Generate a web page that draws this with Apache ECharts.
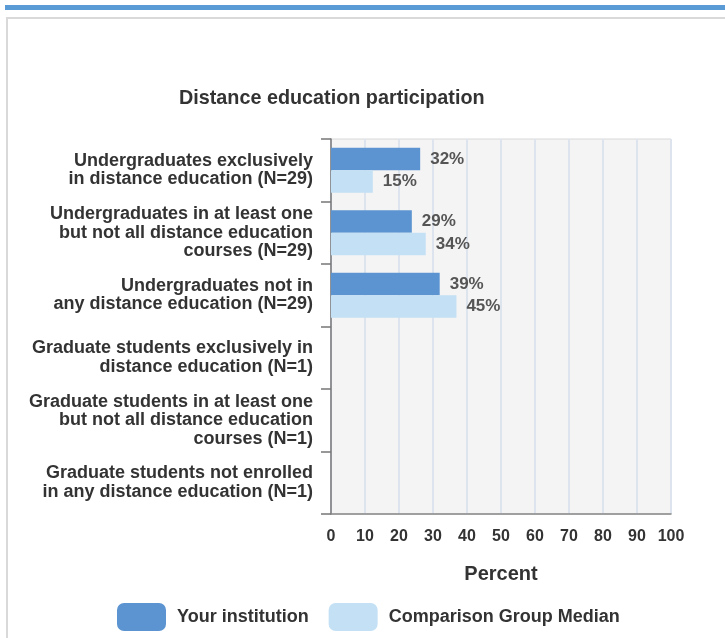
<!DOCTYPE html>
<html>
<head>
<meta charset="utf-8">
<script src="https://cdn.jsdelivr.net/npm/echarts@6/dist/echarts.min.js"></script>
<style>
  html, body { margin: 0; padding: 0; background: #fff; }
  .topbar { position: absolute; left: 5px; top: 5px; width: 720px; height: 5px; background: #5b9bd5; }
  .frame { position: absolute; left: 6px; top: 17px; width: 800px; height: 800px; border: 2px solid #d9d9d9; }
  #chart { position: absolute; left: 0; top: 0; width: 725px; height: 638px; }
</style>
</head>
<body>
<div class="topbar"></div>
<div class="frame"></div>
<div id="chart"></div>
<script>
// 类别与数据
const categories = [
  'Undergraduates exclusively\nin distance education (N=29)',
  'Undergraduates in at least one\nbut not all distance education\ncourses (N=29)',
  'Undergraduates not in\nany distance education (N=29)',
  'Graduate students exclusively in\ndistance education (N=1)',
  'Graduate students in at least one\nbut not all distance education\ncourses (N=1)',
  'Graduate students not enrolled\nin any distance education (N=1)'
]
const institutionValues = [32, 29, 39, null, null, null]
const comparisonValues = [15, 34, 45, null, null, null]
const percentTicks = [0, 100, 10]

const FONT = '"Liberation Sans", Arial, sans-serif'

const chart = echarts.init(document.getElementById('chart'))

const valueLabel = {
  show: true,
  position: 'right',
  distance: 10,
  formatter: '{c}%',
  fontFamily: FONT,
  fontSize: 17,
  fontWeight: 'bold',
  color: '#555'
}

const option = {
  textStyle: { fontFamily: FONT },
  title: {
    text: 'Distance education participation',
    left: 174,
    top: 84,
    textStyle: { fontFamily: FONT, fontSize: 19.8, fontWeight: 'bold', color: '#333' }
  },
  grid: {
    left: 331,
    right: 54,
    top: 139,
    bottom: 124,
    show: true,
    backgroundColor: '#f4f4f4',
    borderColor: '#d8d8d8',
    borderWidth: 1
  },
  legend: {
    left: 112,
    top: 598,
    itemWidth: 49,
    itemHeight: 28,
    itemGap: 20,
    icon: 'roundRect',
    data: ['Your institution', 'Comparison Group Median'],
    textStyle: { fontFamily: FONT, fontSize: 18, fontWeight: 'bold', color: '#333', padding: [0, 0, 0, 6] }
  },
  xAxis: [
    {
      type: 'value',
      min: percentTicks[0],
      max: percentTicks[1],
      interval: percentTicks[2],
      name: 'Percent',
      nameLocation: 'middle',
      nameGap: 50,
      nameTextStyle: { fontFamily: FONT, fontSize: 20, fontWeight: 'bold', color: '#333' },
      axisLine: { show: true, lineStyle: { color: '#888', width: 1.5 } },
      axisTick: { show: false },
      axisLabel: { margin: 15, fontFamily: FONT, fontSize: 16, fontWeight: 'bold', color: '#333' },
      splitLine: { show: true, lineStyle: { color: '#dde4ee', width: 2 } }
    },
    {
      // 柱子使用的隐藏轴
      type: 'value',
      show: false,
      min: 0,
      max: 122
    }
  ],
  yAxis: {
    type: 'category',
    inverse: true,
    data: categories,
    axisLine: { show: true, lineStyle: { color: '#777', width: 1.5 } },
    axisTick: { show: true, length: 10, lineStyle: { color: '#777', width: 1.5 } },
    axisLabel: {
      margin: 18,
      fontFamily: FONT,
      fontSize: 18,
      fontWeight: 'bold',
      color: '#333',
      lineHeight: 18.5,
      align: 'right'
    },
    splitLine: { show: false }
  },
  series: [
    {
      name: 'Your institution',
      type: 'bar',
      xAxisIndex: 1,
      barWidth: 22.5,
      barGap: 0,
      itemStyle: { color: '#5b94d0' },
      label: valueLabel,
      data: institutionValues
    },
    {
      name: 'Comparison Group Median',
      type: 'bar',
      xAxisIndex: 1,
      barWidth: 22.5,
      barGap: 0,
      itemStyle: { color: '#c3e0f5' },
      label: valueLabel,
      data: comparisonValues
    }
  ]
}

chart.setOption(option)
</script>
</body>
</html>
